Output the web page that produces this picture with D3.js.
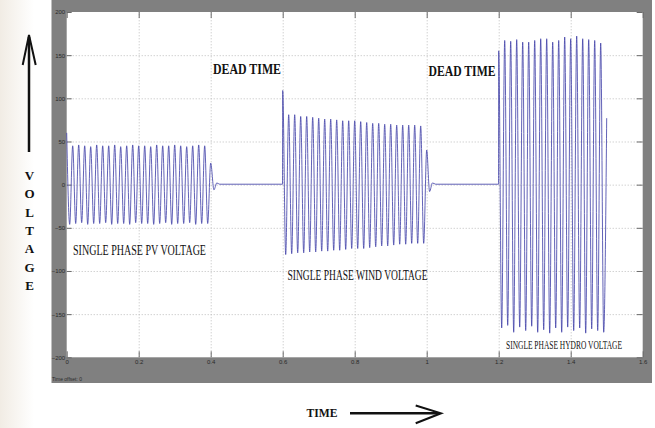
<!DOCTYPE html>
<html>
<head>
<meta charset="utf-8">
<script src="https://cdn.jsdelivr.net/npm/d3@7"></script>
<style>
  body { margin: 0; background: #fff; }
  svg { display: block; }
  .grid line { stroke: #bdbdbd; stroke-dasharray: 1,2; }
  .grid path { display: none; }
  .ticks line { stroke: #6a6a6a; }
  .ticks path { display: none; }
  .lbl path, .lbl line { display: none; }
  .lbl text { font-family: "Liberation Sans", Arial, sans-serif; font-size: 6px; fill: #2a2a2a; }
</style>
</head>
<body>
<svg id="chart" width="655" height="428"></svg>
<script>
// time axis / voltage axis ticks
const xTicks = [0, 0.2, 0.4, 0.6, 0.8, 1.0, 1.2, 1.4, 1.6];
const xTickLabels = ["0", "0.2", "0.4", "0.6", "0.8", "1", "1.2", "1.4", "1.6"];
const yTicks = [-200, -150, -100, -50, 0, 50, 100, 150, 200];

// 60 Hz waveforms, one high and one low per cycle
const period = 1 / 60;
const segStarts = [0, 0.6, 1.2];

const pvHighs = [60, 45, 46, 45, 44, 46, 45, 45, 46, 44, 45, 46, 45, 45, 44, 46, 45, 45, 46, 45, 44, 45, 46, 45];
const pvLows = [-46, -45, -44, -46, -45, -45, -44, -46, -45, -45, -46, -44, -45, -45, -46, -45, -44, -46, -45, -45, -44, -46, -45, -45];
const pvTail = [[0.4, 25], [0.409, -6], [0.417, 2], [0.425, 0.5], [0.5995, 0.5]];

const windHighs = [109, 81, 81, 79, 79, 78, 77, 76, 76, 75, 74, 74, 74, 73, 72, 71, 71, 70, 70, 69, 69, 69, 69, 68];
const windLows = [-81, -80, -79, -79, -78, -78, -77, -77, -76, -76, -75, -74, -74, -74, -73, -72, -71, -71, -70, -69, -69, -68, -68, -68];
const windTail = [[1.0, 40], [1.008, -8], [1.016, 2], [1.025, 0.5], [1.1995, 0.5]];

const hydroHighs = [155, 167, 166, 168, 165, 165, 167, 169, 169, 165, 167, 171, 169, 172, 169, 168, 167, 164];
const hydroLows = [-166, -163, -171, -165, -169, -164, -171, -168, -172, -166, -171, -165, -169, -166, -172, -167, -169, -171];
const hydroTail = [[1.5, 77]];

const svg = d3.select("#chart");

// faint backdrop at the left edge
const defs = svg.append("defs");
const grad = defs.append("linearGradient").attr("id", "edge");
grad.append("stop").attr("offset", "0%").attr("stop-color", "#f1ece4");
grad.append("stop").attr("offset", "100%").attr("stop-color", "#ffffff");
svg.append("rect").attr("x", 0).attr("y", 0).attr("width", 34).attr("height", 428).attr("fill", "url(#edge)");

// scope frame
svg.append("rect").attr("x", 51.5).attr("y", 0).attr("width", 600.5).attr("height", 383).attr("fill", "#808080");

const plot = { left: 66.7, right: 642.7, top: 12, bottom: 357.3 };
const x = d3.scaleLinear().domain([0, 1.6]).range([plot.left, plot.right]);
const y = d3.scaleLinear().domain([-200, 200]).range([plot.bottom, plot.top]);
const pw = plot.right - plot.left;
const ph = plot.bottom - plot.top;

svg.append("rect").attr("x", plot.left).attr("y", plot.top).attr("width", pw).attr("height", ph).attr("fill", "#fff");

// dotted grid
svg.append("g").attr("class", "grid").attr("transform", `translate(0,${plot.bottom})`)
  .call(d3.axisBottom(x).tickValues(xTicks.slice(1, -1)).tickSize(-ph).tickFormat(""));
svg.append("g").attr("class", "grid").attr("transform", `translate(${plot.left},0)`)
  .call(d3.axisLeft(y).tickValues(yTicks.slice(1, -1)).tickSize(-pw).tickFormat(""));

// inner tick marks on all four sides
svg.append("g").attr("class", "ticks").attr("transform", `translate(0,${plot.bottom})`)
  .call(d3.axisBottom(x).tickValues(xTicks).tickSize(-6).tickFormat(""));
svg.append("g").attr("class", "ticks").attr("transform", `translate(0,${plot.top})`)
  .call(d3.axisTop(x).tickValues(xTicks).tickSize(-6).tickFormat(""));
svg.append("g").attr("class", "ticks").attr("transform", `translate(${plot.left},0)`)
  .call(d3.axisLeft(y).tickValues(yTicks).tickSize(-5).tickFormat(""));
svg.append("g").attr("class", "ticks").attr("transform", `translate(${plot.right},0)`)
  .call(d3.axisRight(y).tickValues(yTicks).tickSize(-6).tickFormat(""));

// tick labels
svg.append("g").attr("class", "lbl").attr("transform", `translate(${plot.left},0)`)
  .call(d3.axisLeft(y).tickValues(yTicks).tickSize(0).tickPadding(1.5));
svg.append("g").attr("class", "lbl").attr("transform", `translate(0,${plot.bottom})`)
  .call(d3.axisBottom(x).tickValues(xTicks).tickSize(0).tickPadding(2.5).tickFormat((d, i) => xTickLabels[i]));

svg.append("text").attr("x", 52).attr("y", 381)
  .style("font-family", "Liberation Sans, Arial, sans-serif").style("font-size", "5px").style("fill", "#2a2a2a")
  .text("Time offset:  0");

// build waveform points
function cycles(start, highs, lows) {
  const pts = [];
  highs.forEach((h, k) => {
    pts.push([start + k * period, h]);
    pts.push([start + (k + 0.5) * period, lows[k]]);
  });
  return pts;
}
const wave = [].concat(
  cycles(segStarts[0], pvHighs, pvLows), pvTail,
  cycles(segStarts[1], windHighs, windLows), windTail,
  cycles(segStarts[2], hydroHighs, hydroLows), hydroTail
);

const line = d3.line().x(d => x(d[0])).y(d => y(d[1])).curve(d3.curveMonotoneX);
svg.append("path").datum(wave).attr("d", line)
  .attr("fill", "none").attr("stroke", "#4646aa").attr("stroke-width", 0.85);

// annotations
const serif = "Liberation Serif, Times New Roman, serif";
function note(txt, x0, yb, w, size, bold) {
  svg.append("text").attr("x", x0).attr("y", yb)
    .attr("textLength", w).attr("lengthAdjust", "spacingAndGlyphs")
    .style("font-family", serif).style("font-size", size + "px")
    .style("font-weight", bold ? "bold" : "normal").style("fill", "#111")
    .text(txt);
}
note("DEAD TIME", 213, 74, 68, 14, true);
note("DEAD TIME", 428.5, 76, 67, 14, true);
note("SINGLE PHASE PV VOLTAGE", 73, 255, 133, 14, false);
note("SINGLE PHASE WIND VOLTAGE", 287.5, 280, 140, 14, false);
note("SINGLE PHASE HYDRO VOLTAGE", 506, 348.5, 116, 13, false);

// vertical axis name and arrow
"VOLTAGE".split("").forEach((c, i) => {
  svg.append("text").attr("x", 29.5).attr("y", 180 + i * 18.3).attr("text-anchor", "middle")
    .style("font-family", serif).style("font-size", "13px").style("font-weight", "bold").style("fill", "#111")
    .text(c);
});
svg.append("line").attr("x1", 29).attr("y1", 152).attr("x2", 29).attr("y2", 37)
  .attr("stroke", "#111").attr("stroke-width", 2.5);
svg.append("path").attr("d", "M22.7,65 L29,35 L35.7,65")
  .attr("fill", "none").attr("stroke", "#111").attr("stroke-width", 2);

// horizontal axis name and arrow
svg.append("text").attr("x", 306.5).attr("y", 416.5).attr("textLength", 31).attr("lengthAdjust", "spacingAndGlyphs")
  .style("font-family", serif).style("font-size", "13px").style("font-weight", "bold").style("fill", "#111")
  .text("TIME");
svg.append("line").attr("x1", 350).attr("y1", 413.3).attr("x2", 439).attr("y2", 413.3)
  .attr("stroke", "#111").attr("stroke-width", 2.5);
svg.append("path").attr("d", "M415.7,405.5 L441,413.3 L415.7,423.3")
  .attr("fill", "none").attr("stroke", "#111").attr("stroke-width", 2);
</script>
</body>
</html>
